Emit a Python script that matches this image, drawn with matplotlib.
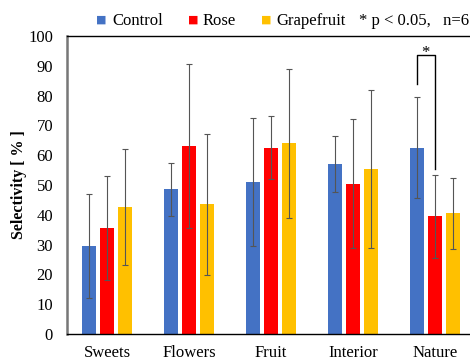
import matplotlib.pyplot as plt
import numpy as np

plt.rcParams['font.family'] = ['Liberation Serif', 'DejaVu Serif']

categories = ["Sweets", "Flowers", "Fruit", "Interior", "Nature"]
series = ["Control", "Rose", "Grapefruit"]
colors = ["#4472C4", "#FF0000", "#FFC000"]

control = [29.5, 48.5, 51.0, 57.0, 62.5]
control_err = [17.5, 8.75, 21.5, 9.5, 17.0]
rose = [35.5, 63.0, 62.5, 50.5, 39.5]
rose_err = [17.5, 27.5, 10.5, 21.5, 14.0]
grapefruit = [42.5, 43.5, 64.0, 55.5, 40.5]
grapefruit_err = [19.5, 23.75, 25.0, 26.5, 12.0]

yticks = list(range(0, 101, 10))

fig = plt.figure(figsize=(4.7, 3.6), dpi=100)
ax = fig.add_axes([67 / 470, 26 / 360, 408 / 470, 298 / 360])

x = np.arange(len(categories))
width = 0.17
offsets = [-0.22, 0.0, 0.22]
for vals, errs, col, off, name in zip([control, rose, grapefruit],
                                      [control_err, rose_err, grapefruit_err],
                                      colors, offsets, series):
    ax.bar(x + off, vals, width, color=col, label=name, zorder=2)
    ax.errorbar(x + off, vals, yerr=errs, fmt='none', ecolor='#555555',
                elinewidth=0.8, capsize=2.5, capthick=0.8, zorder=3)

# significance bracket (Nature: Control vs Rose)
ax.plot([4 - 0.22, 4 - 0.22, 4.0, 4.0], [84, 93.5, 93.5, 55.5],
        color='black', lw=1.0, zorder=4)
ax.text(4 - 0.11, 91.5, "*", ha='center', va='bottom', fontsize=12)

ax.set_xlim(-0.49, 4.49)
ax.set_ylim(0, 100)
ax.set_yticks(yticks)
ax.set_xticks(x)
ax.set_xticklabels(categories, fontsize=12)
ax.tick_params(axis='both', length=0, labelsize=12)
ax.tick_params(axis='x', pad=8)
ax.tick_params(axis='y', pad=10)
ax.set_ylabel("Selectivity [ % ]", fontsize=11.5, fontweight='bold', labelpad=1)

ax.spines['left'].set_color('#777777')
ax.spines['left'].set_linewidth(1.8)
ax.spines['bottom'].set_linewidth(1.0)
ax.spines['top'].set_linewidth(1.0)
ax.spines['right'].set_visible(False)

# legend row at top
ly = 1 - 19 / 360
for xs, xt, col, name in zip([96, 188, 261], [112, 203, 276], colors, series):
    fig.text(xs / 470, ly, "\u25a0", color=col, fontsize=8,
             va='center_baseline', family=['DejaVu Sans'])
    fig.text(xt / 470, ly, name, fontsize=12, va='center_baseline')
fig.text(469 / 470, ly, "* p < 0.05,   n=6", fontsize=12, ha='right',
         va='center_baseline')

fig.savefig("out.png", dpi=100)
